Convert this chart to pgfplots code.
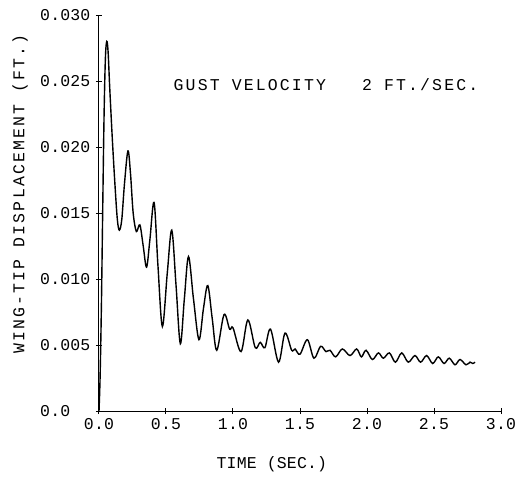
\documentclass[border=0pt]{standalone}
\usepackage{fontspec}
\usepackage{pgfplots}
\pgfplotsset{compat=1.18}
\setmainfont{Liberation Mono}
\newfontfamily\plotfont[LetterSpace=1]{Liberation Mono}
\newfontfamily\widefont[LetterSpace=13]{Liberation Mono}
\newcommand{\pf}{\plotfont\fontsize{16.5bp}{19bp}\selectfont}
\newcommand{\wf}{\widefont\fontsize{16.5bp}{19bp}\selectfont}
\begin{document}
\begin{tikzpicture}
\begin{axis}[
  scale only axis,
  width=402bp, height=396bp,
  xmin=0, xmax=3.0, ymin=0, ymax=0.030,
  axis lines=left,
  axis line style={-, line width=1bp},
  tick align=center,
  major tick length=6bp,
  tick style={line width=1bp, black},
  xtick={0,0.5,1.0,1.5,2.0,2.5,3.0},
  xticklabels={0.0,0.5,1.0,1.5,2.0,2.5,3.0},
  ytick={0,0.005,0.010,0.015,0.020,0.025,0.030},
  yticklabels={0.0,0.005,0.010,0.015,0.020,0.025,0.030},
  scaled y ticks=false,
  /pgf/number format/assume math mode=true,
  xticklabel style={font=\pf, inner sep=0pt, anchor=north, yshift=-4bp},
  yticklabel style={font=\pf, inner sep=0pt, anchor=west, xshift=-56bp},
  xlabel={TIME (SEC.)},
  ylabel={WING-TIP DISPLACEMENT (FT.)},
  xlabel style={font=\pf, at={(axis description cs:0.43,-0.134)}, anchor=center},
  ylabel style={font=\wf, at={(axis description cs:-0.1965,0.548)}, anchor=center},
  clip=false,
]
\addplot[black, line width=1.4bp, smooth, tension=0.55] coordinates {
(0,0) (0.008,0.0025) (0.018,0.008) (0.028,0.0155) (0.038,0.0225) (0.048,0.0268)
(0.058,0.0280) (0.068,0.0272) (0.080,0.0245) (0.100,0.0205) (0.120,0.0170)
(0.137,0.0145) (0.152,0.0137) (0.170,0.0145) (0.190,0.0172) (0.216,0.0197)
(0.235,0.0180) (0.255,0.0150) (0.279,0.0136) (0.305,0.0141) (0.330,0.0125)
(0.355,0.0109) (0.380,0.0130) (0.411,0.0158) (0.440,0.0110) (0.473,0.0064)
(0.510,0.0105) (0.543,0.0137) (0.575,0.0095) (0.607,0.0051) (0.637,0.0085)
(0.668,0.0117) (0.705,0.0085) (0.746,0.0054) (0.780,0.0078) (0.812,0.0095)
(0.845,0.0070) (0.879,0.0046) (0.933,0.0073) (0.975,0.0062) (1.000,0.0063)
(1.060,0.0045) (1.111,0.0069) (1.166,0.0048) (1.203,0.0052) (1.238,0.0048)
(1.280,0.0062) (1.340,0.0037) (1.388,0.0059) (1.438,0.0046) (1.463,0.0047)
(1.500,0.0043) (1.555,0.0054) (1.604,0.0040) (1.654,0.0049) (1.694,0.0045)
(1.724,0.0046) (1.766,0.0041) (1.816,0.0047) (1.873,0.0042) (1.923,0.0047)
(1.958,0.0041) (1.993,0.0046) (2.040,0.0039) (2.085,0.0044) (2.122,0.0040)
(2.167,0.0044) (2.212,0.0037) (2.259,0.0044) (2.308,0.0037) (2.358,0.0042)
(2.400,0.0037) (2.445,0.0042) (2.490,0.0036) (2.532,0.0041) (2.575,0.0036)
(2.614,0.0040) (2.657,0.0035) (2.694,0.0039) (2.739,0.0035) (2.769,0.0037)
(2.790,0.0036) (2.806,0.0037)
};
\node[font=\wf, anchor=center] at (axis cs:1.694,0.0247) {GUST VELOCITY\ \ \ 2 FT./SEC.};
\end{axis}
\pgfresetboundingbox
\path[use as bounding box] (-99bp,-66bp) rectangle (418bp,411bp);
\end{tikzpicture}
\end{document}
